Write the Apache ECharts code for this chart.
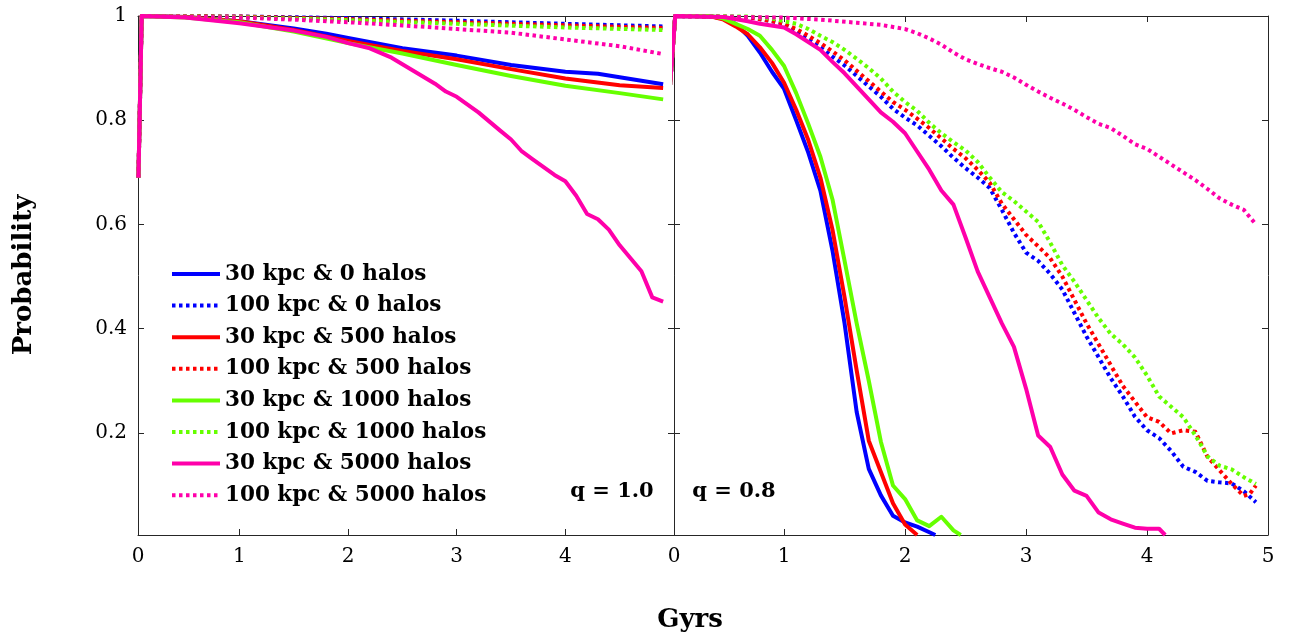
<!DOCTYPE html>
<html><head><meta charset="utf-8">
<script src="https://cdn.jsdelivr.net/npm/echarts@6/dist/echarts.min.js"></script>
<style>html,body{margin:0;padding:0;background:#fff}#c{width:1291px;height:637px}</style>
</head><body><div id="c"></div>
<script>
// ---- data ----
const seriesNames = ['30 kpc & 0 halos','100 kpc & 0 halos','30 kpc & 500 halos','100 kpc & 500 halos',
  '30 kpc & 1000 halos','100 kpc & 1000 halos','30 kpc & 5000 halos','100 kpc & 5000 halos'];
const xTicksLeft = [0,1,2,3,4];
const xTicksRight = [0,1,2,3,4,5];
const yTicks = [0.2,0.4,0.6,0.8,1];

// q = 1.0 panel
const L_30_0 = [[0.07,0.69],[0.1,1],[0.5,0.998],[1,0.99],[1.5,0.976],[1.8,0.966],[2,0.958],[2.5,0.938],[3,0.924],[3.5,0.906],[4,0.893],[4.3,0.889],[4.6,0.879],[4.9,0.869]];
const L_100_0 = [[0.07,0.69],[0.1,1],[1,0.999],[2,0.996],[3,0.991],[4,0.985],[4.9,0.98]];
const L_30_500 = [[0.07,0.69],[0.1,1],[0.5,0.998],[1,0.99],[1.5,0.973],[2,0.952],[2.5,0.933],[3,0.917],[3.5,0.898],[4,0.88],[4.5,0.867],[4.9,0.862]];
const L_100_500 = [[0.07,0.69],[0.1,1],[1,0.999],[2,0.994],[3,0.988],[4,0.982],[4.9,0.977]];
const L_30_1000 = [[0.07,0.69],[0.1,1],[0.5,0.997],[1,0.988],[1.5,0.97],[2,0.948],[2.5,0.928],[3,0.906],[3.5,0.885],[4,0.866],[4.5,0.852],[4.9,0.84]];
const L_100_1000 = [[0.07,0.69],[0.1,1],[1,0.998],[2,0.992],[3,0.985],[4,0.978],[4.9,0.973]];
const L_30_5000 = [[0.07,0.69],[0.1,1],[0.5,0.997],[1,0.986],[1.5,0.972],[1.8,0.96],[2,0.948],[2.2,0.938],[2.4,0.92],[2.6,0.895],[2.8,0.87],[2.9,0.855],[3,0.845],[3.2,0.815],[3.4,0.78],[3.5,0.763],[3.6,0.74],[3.7,0.725],[3.8,0.71],[3.9,0.695],[4,0.683],[4.1,0.655],[4.2,0.62],[4.3,0.61],[4.4,0.59],[4.5,0.56],[4.6,0.535],[4.7,0.51],[4.8,0.46],[4.9,0.452]];
const L_100_5000 = [[0.07,0.69],[0.1,1],[1,0.997],[1.5,0.993],[2,0.988],[2.5,0.982],[3,0.975],[3.5,0.968],[4,0.955],[4.5,0.942],[4.9,0.927]];

// q = 0.8 panel
const R_30_0 = [[0,0.69],[0.1,1],[0.4,0.999],[0.5,0.995],[0.6,0.985],[0.7,0.962],[0.8,0.93],[0.9,0.893],[1,0.86],[1.1,0.8],[1.2,0.738],[1.3,0.665],[1.4,0.55],[1.5,0.41],[1.6,0.24],[1.7,0.131],[1.8,0.08],[1.9,0.041],[2,0.028],[2.1,0.02],[2.25,0.004]];
const R_100_0 = [[0,0.69],[0.1,1],[0.7,0.998],[0.9,0.99],[1,0.985],[1.1,0.97],[1.2,0.955],[1.3,0.94],[1.4,0.922],[1.5,0.905],[1.6,0.885],[1.7,0.865],[1.8,0.845],[1.9,0.822],[2,0.805],[2.1,0.79],[2.2,0.77],[2.3,0.75],[2.4,0.728],[2.5,0.708],[2.6,0.69],[2.7,0.67],[2.8,0.628],[2.9,0.584],[3,0.546],[3.1,0.53],[3.2,0.505],[3.3,0.475],[3.4,0.43],[3.5,0.385],[3.6,0.345],[3.7,0.305],[3.8,0.27],[3.9,0.231],[4,0.205],[4.1,0.19],[4.2,0.165],[4.3,0.135],[4.4,0.125],[4.5,0.108],[4.6,0.105],[4.7,0.103],[4.8,0.088],[4.9,0.067]];
const R_30_500 = [[0,0.69],[0.1,1],[0.4,0.999],[0.5,0.993],[0.6,0.98],[0.7,0.965],[0.8,0.94],[0.9,0.91],[1,0.872],[1.1,0.82],[1.2,0.762],[1.3,0.69],[1.4,0.59],[1.5,0.46],[1.6,0.32],[1.7,0.185],[1.8,0.125],[1.9,0.065],[2,0.024],[2.1,0.004]];
const R_100_500 = [[0,0.69],[0.1,1],[0.7,0.998],[0.9,0.99],[1,0.985],[1.1,0.975],[1.2,0.962],[1.3,0.948],[1.4,0.932],[1.5,0.915],[1.6,0.895],[1.7,0.875],[1.8,0.855],[1.9,0.835],[2,0.82],[2.1,0.803],[2.2,0.785],[2.3,0.765],[2.4,0.745],[2.5,0.727],[2.6,0.705],[2.7,0.68],[2.8,0.64],[2.9,0.61],[3,0.58],[3.1,0.558],[3.2,0.535],[3.3,0.5],[3.4,0.455],[3.5,0.41],[3.6,0.37],[3.7,0.33],[3.8,0.29],[3.9,0.26],[4,0.23],[4.1,0.221],[4.2,0.199],[4.3,0.205],[4.4,0.202],[4.5,0.154],[4.6,0.128],[4.7,0.102],[4.8,0.079],[4.85,0.083],[4.9,0.099]];
const R_30_1000 = [[0,0.69],[0.1,1],[0.4,1],[0.5,0.995],[0.6,0.985],[0.7,0.975],[0.8,0.962],[0.9,0.935],[1,0.904],[1.1,0.852],[1.2,0.793],[1.3,0.73],[1.4,0.648],[1.5,0.53],[1.6,0.41],[1.7,0.3],[1.8,0.183],[1.9,0.099],[2,0.073],[2.1,0.032],[2.2,0.021],[2.3,0.039],[2.4,0.013],[2.46,0.004]];
const R_100_1000 = [[0,0.69],[0.1,1],[0.7,0.999],[0.9,0.995],[1,0.99],[1.1,0.985],[1.2,0.975],[1.3,0.962],[1.4,0.95],[1.5,0.935],[1.6,0.918],[1.7,0.9],[1.8,0.88],[1.9,0.855],[2,0.835],[2.1,0.818],[2.2,0.795],[2.3,0.775],[2.4,0.758],[2.5,0.742],[2.6,0.72],[2.7,0.69],[2.8,0.662],[2.9,0.645],[3,0.625],[3.1,0.605],[3.2,0.565],[3.3,0.522],[3.4,0.49],[3.5,0.455],[3.6,0.42],[3.7,0.39],[3.8,0.37],[3.9,0.345],[4,0.31],[4.1,0.27],[4.2,0.25],[4.3,0.23],[4.4,0.195],[4.5,0.155],[4.6,0.137],[4.7,0.13],[4.8,0.115],[4.9,0.102]];
const R_30_5000 = [[0,0.69],[0.1,1],[0.5,0.998],[0.7,0.99],[0.8,0.985],[1,0.978],[1.1,0.965],[1.2,0.95],[1.3,0.935],[1.4,0.912],[1.5,0.89],[1.6,0.865],[1.7,0.84],[1.8,0.815],[1.9,0.797],[2,0.775],[2.1,0.74],[2.2,0.705],[2.3,0.665],[2.4,0.638],[2.5,0.575],[2.6,0.51],[2.7,0.46],[2.8,0.41],[2.9,0.365],[3,0.285],[3.1,0.195],[3.2,0.173],[3.3,0.12],[3.4,0.089],[3.5,0.079],[3.6,0.047],[3.7,0.034],[3.8,0.026],[3.9,0.018],[4,0.016],[4.1,0.016],[4.15,0.004]];
const R_100_5000 = [[0,0.69],[0.1,1],[1,0.997],[1.3,0.993],[1.6,0.987],[1.8,0.983],[2,0.975],[2.1,0.967],[2.2,0.957],[2.3,0.945],[2.4,0.93],[2.5,0.917],[2.6,0.908],[2.7,0.9],[2.8,0.893],[2.9,0.882],[3,0.868],[3.1,0.855],[3.2,0.843],[3.3,0.832],[3.4,0.82],[3.5,0.806],[3.6,0.793],[3.7,0.785],[3.8,0.77],[3.9,0.754],[4,0.745],[4.1,0.73],[4.2,0.715],[4.3,0.7],[4.4,0.685],[4.5,0.668],[4.6,0.65],[4.7,0.638],[4.8,0.628],[4.9,0.6]];

const leftData = [L_30_0,L_100_0,L_30_500,L_100_500,L_30_1000,L_100_1000,L_30_5000,L_100_5000];
const rightData = [R_30_0,R_100_0,R_30_500,R_100_500,R_30_1000,R_100_1000,R_30_5000,R_100_5000];

// ---- style ----
const colors = ['#0000ff','#0000ff','#ff0000','#ff0000','#66ff00','#66ff00','#ff00aa','#ff00aa'];
const FONT = 'DejaVu Serif';
const AX = '#262626';
const LX0 = 0.066, RX0 = 0.09;

const chart = echarts.init(document.getElementById('c'), null, {renderer:'canvas'});

function xAxis(grid, pos, min, labelVals, show) {
  return {
    type:'value', gridIndex:grid, position:pos, min:min, max:5,
    axisLine:{show:true, onZero:false, lineStyle:{color:AX, width:1}},
    axisTick:{show:true, inside:true, length:6, lineStyle:{color:AX}, customValues:labelVals.filter(v=>v>=1 && v<5)},
    axisLabel:{show:show, customValues:labelVals.map(v=>v===0?min:v), formatter:v=>String(Math.round(v)),
      color:'#000', fontFamily:FONT, fontSize:20, margin:12, showMinLabel:true, showMaxLabel:true},
    splitLine:{show:false}
  };
}
function yAxis(grid, pos, show) {
  return {
    type:'value', gridIndex:grid, position:pos, min:0.004, max:1,
    axisLine:{show:true, onZero:false, lineStyle:{color:AX, width:1}},
    axisTick:{show:true, inside:true, length:6, lineStyle:{color:AX}, customValues:yTicks.filter(v=>v<1)},
    axisLabel:{show:show, customValues:yTicks, formatter:v=>(v===1?'1':v.toFixed(1)),
      color:'#000', fontFamily:FONT, fontSize:20, margin:11},
    splitLine:{show:false}
  };
}

const series = [];
[leftData, rightData].forEach((arr, g) => {
  arr.forEach((d, i) => {
    const dotted = i % 2 === 1;
    series.push({
      type:'line', name:seriesNames[i], xAxisIndex:g*2, yAxisIndex:g*2,
      data:d, showSymbol:false, symbol:'none', animation:false, z: 2 + i,
      lineStyle:{color:colors[i], width:4, type:dotted?[3.5,3.5]:'solid', cap:'butt', join:'round'},
      itemStyle:{color:colors[i]}
    });
  });
});

chart.setOption({
  animation:false,
  grid:[{left:138, top:16, width:536, height:519},{left:674, top:16, width:594, height:519}],
  xAxis:[
    xAxis(0,'bottom',LX0,xTicksLeft,true), xAxis(0,'top',LX0,xTicksLeft,false),
    xAxis(1,'bottom',RX0,xTicksRight,true), xAxis(1,'top',RX0,xTicksRight,false)
  ],
  yAxis:[ yAxis(0,'left',true), yAxis(0,'right',false), yAxis(1,'left',false), yAxis(1,'right',false) ],
  legend:{
    orient:'vertical', left:165, top:258, padding:5, itemWidth:48, itemHeight:20, itemGap:9.6,
    data:seriesNames,
    itemStyle:{opacity:0},
    lineStyle:{width:4},
    textStyle:{fontFamily:FONT, fontWeight:'bold', fontSize:21.5, color:'#000', lineHeight:20},
    selectedMode:false
  },
  graphic:[
    {type:'text', x:612, y:492, style:{text:'q = 1.0', fontFamily:FONT, fontWeight:'bold', fontSize:21, fill:'#000', align:'center', verticalAlign:'middle'}},
    {type:'text', x:734, y:492, style:{text:'q = 0.8', fontFamily:FONT, fontWeight:'bold', fontSize:21, fill:'#000', align:'center', verticalAlign:'middle'}},
    {type:'text', x:690, y:620, style:{text:'Gyrs', fontFamily:FONT, fontWeight:'bold', fontSize:26, fill:'#000', align:'center', verticalAlign:'middle'}},
    {type:'text', x:24, y:275, rotation:Math.PI/2, style:{text:'Probability', fontFamily:FONT, fontWeight:'bold', fontSize:26, fill:'#000', align:'center', verticalAlign:'middle'}}
  ],
  series:series
});
</script>
</body></html>
